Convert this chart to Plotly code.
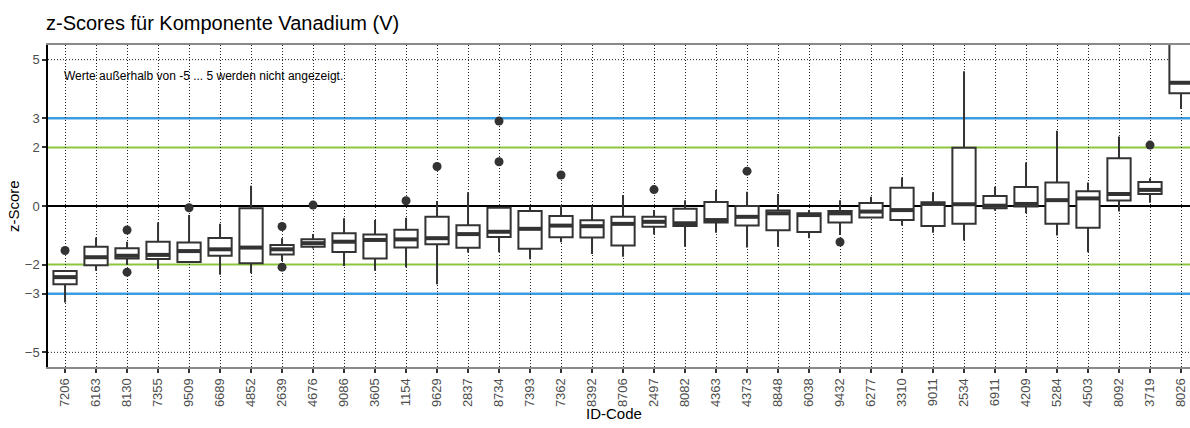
import plotly.graph_objects as go

ids = ["7206","6163","8130","7355","9509","6689","4852","2639","4676","9086",
       "3605","1154","9629","2837","8734","7393","7362","8392","8706","2497",
       "8082","4363","4373","8848","6038","9432","6277","3310","9011","2534",
       "6911","4209","5284","4503","8092","3719","8026"]

q1 = [-2.67,-2.02,-1.79,-1.81,-1.91,-1.70,-1.96,-1.66,-1.39,-1.57,
      -1.79,-1.42,-1.31,-1.43,-1.06,-1.46,-1.07,-1.08,-1.35,-0.71,
      -0.68,-0.56,-0.67,-0.83,-0.89,-0.56,-0.39,-0.48,-0.68,-0.61,
      -0.08,-0.02,-0.61,-0.74,0.19,0.41,3.85]
median = [-2.43,-1.75,-1.70,-1.67,-1.54,-1.48,-1.42,-1.48,-1.27,-1.22,
          -1.16,-1.14,-1.10,-0.96,-0.88,-0.78,-0.67,-0.69,-0.61,-0.54,
          -0.59,-0.48,-0.37,-0.25,-0.31,-0.25,-0.19,-0.14,0.07,0.06,
          0.01,0.07,0.20,0.26,0.41,0.55,4.21]
q3 = [-2.22,-1.39,-1.44,-1.22,-1.25,-1.09,-0.08,-1.33,-1.14,-0.93,
      -0.97,-0.81,-0.37,-0.66,-0.06,-0.17,-0.34,-0.49,-0.37,-0.37,
      -0.09,0.14,0.00,-0.15,-0.25,-0.17,0.10,0.62,0.13,1.99,
      0.34,0.65,0.80,0.50,1.63,0.82,6.50]
lower = [-3.30,-2.21,-2.01,-2.15,-1.95,-2.35,-2.30,-1.88,-1.45,-2.05,
         -2.21,-2.09,-2.67,-1.59,-1.58,-1.82,-1.24,-1.64,-1.73,-0.97,
         -1.39,-0.91,-1.42,-1.39,-1.10,-0.99,-0.42,-0.67,-0.91,-1.18,
         -0.16,-0.25,-1.01,-1.58,-0.19,0.11,3.31]
upper = [-2.22,-1.08,-1.22,-0.56,-0.31,-0.61,0.69,-1.10,-0.96,-0.42,
         -0.48,-0.40,0.17,0.47,-0.06,-0.02,0.03,0.00,0.38,-0.14,
         0.20,0.55,0.49,0.41,-0.14,0.20,0.32,0.97,0.47,4.60,
         0.66,1.49,2.57,0.80,2.37,0.95,7.00]

out_ids = ["7206","8130","8130","9509","2639","2639","4676","1154","9629",
           "8734","8734","7362","2497","4373","9432","3719"]
out_vals = [-1.52,-0.82,-2.26,-0.06,-0.70,-2.09,0.03,0.18,1.35,
            2.90,1.51,1.06,0.56,1.19,-1.23,2.08]

ref_green = [2, -2]
ref_blue = [3, -3]
grid_limits = [5, -5]
y_ticks = [-5, -3, -2, 0, 2, 3, 5]

title_text = "z-Scores für Komponente Vanadium (V)"
note_text = "Werte außerhalb von -5 ... 5 werden nicht angezeigt."

idx = list(range(len(ids)))
pos = {c: i for i, c in enumerate(ids)}
font = "Liberation Sans, Arial, sans-serif"
dark = "#333333"

fig = go.Figure()
fig.add_trace(go.Box(
    x=idx, q1=q1, median=median, q3=q3, lowerfence=lower, upperfence=upper,
    width=0.75, whiskerwidth=0, fillcolor="white",
    line=dict(color=dark, width=2), boxpoints=False, hoverinfo="skip",
    showlegend=False))

mx, my = [], []
for i, m in zip(idx, median):
    mx += [i - 0.36, i + 0.36, None]
    my += [m, m, None]
fig.add_trace(go.Scatter(x=mx, y=my, mode="lines",
                         line=dict(color=dark, width=4), showlegend=False,
                         hoverinfo="skip"))

fig.add_trace(go.Scatter(x=[pos[c] for c in out_ids], y=out_vals, mode="markers",
                         marker=dict(color=dark, size=9), showlegend=False))

for v in grid_limits:
    fig.add_hline(y=v, line=dict(color="#222222", width=1, dash="1px,2px"), layer="below")
for v in ref_green:
    fig.add_hline(y=v, line=dict(color="#8cc63e", width=2), layer="below")
for v in ref_blue:
    fig.add_hline(y=v, line=dict(color="#3d9be3", width=2.4), layer="below")
fig.add_hline(y=0, line=dict(color="black", width=1.8), layer="below")

fig.add_annotation(x=-0.1, y=4.45, xref="x", yref="y", text=note_text,
                   showarrow=False, xanchor="left", yanchor="middle",
                   font=dict(family=font, size=12, color="black"))
fig.add_annotation(x=(13 - 48) / 1142, y=0, xref="paper", yref="y", text="z-Score",
                   showarrow=False, textangle=-90, xanchor="center", yanchor="middle",
                   font=dict(family=font, size=15, color="black"))
fig.add_annotation(x=(614 - 48) / 1142, y=-(413 - 367) / 322, xref="paper", yref="paper",
                   text="ID-Code", showarrow=False, xanchor="center",
                   yanchor="middle", font=dict(family=font, size=15, color="black"))

fig.update_layout(
    width=1190, height=428,
    margin=dict(l=48, r=0, t=45, b=61),
    paper_bgcolor="white", plot_bgcolor="white",
    title=dict(text=title_text, x=46 / 1190, xanchor="left", xref="container",
               y=1 - 23 / 428, yanchor="middle", yref="container",
               font=dict(family=font, size=20, color="black")),
    xaxis=dict(range=[-0.55, 36.29], tickmode="array", tickvals=idx, ticktext=ids,
               tickangle=-90, showgrid=True, griddash="1px,2px", gridcolor="#222222",
               gridwidth=1, zeroline=False, showline=True, linecolor="#8a8a8a",
               linewidth=2, mirror=True, ticks="outside", ticklen=4,
               tickcolor=dark, tickwidth=1.5,
               tickfont=dict(family=font, size=13, color="#4d4d4d")),
    yaxis=dict(range=[-5.5, 5.5], tickmode="array", tickvals=y_ticks,
               showgrid=False, zeroline=False, showline=True, linecolor="black",
               linewidth=1.5, ticks="outside", ticklen=4, tickcolor=dark,
               tickwidth=1.5,
               tickfont=dict(family=font, size=13, color="#4d4d4d")),
)

fig.write_html("out.html")
